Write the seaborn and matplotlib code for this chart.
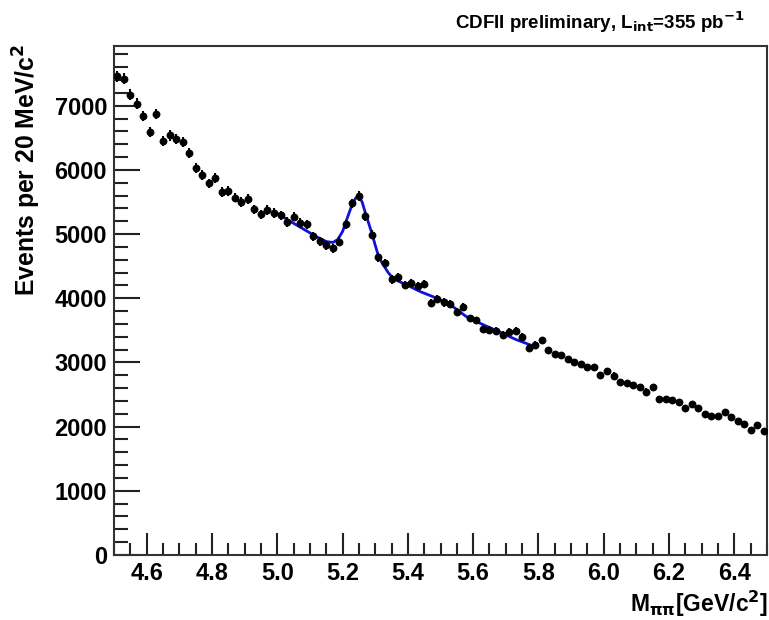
import matplotlib
matplotlib.use("Agg")
import matplotlib.pyplot as plt
from matplotlib.ticker import MultipleLocator
import numpy as np
import pandas as pd
import seaborn as sns

# ---- data ----
mass = [4.51, 4.53, 4.55, 4.57, 4.59, 4.61, 4.63, 4.65, 4.67, 4.69,
        4.71, 4.73, 4.75, 4.77, 4.79, 4.81, 4.83, 4.85, 4.87, 4.89,
        4.91, 4.93, 4.95, 4.97, 4.99, 5.01, 5.03, 5.05, 5.07, 5.09,
        5.11, 5.13, 5.15, 5.17, 5.19, 5.21, 5.23, 5.25, 5.27, 5.29,
        5.31, 5.33, 5.35, 5.37, 5.39, 5.41, 5.43, 5.45, 5.47, 5.49,
        5.51, 5.53, 5.55, 5.57, 5.59, 5.61, 5.63, 5.65, 5.67, 5.69,
        5.71, 5.73, 5.75, 5.77, 5.79, 5.81, 5.83, 5.85, 5.87, 5.89,
        5.91, 5.93, 5.95, 5.97, 5.99, 6.01, 6.03, 6.05, 6.07, 6.09,
        6.11, 6.13, 6.15, 6.17, 6.19, 6.21, 6.23, 6.25, 6.27, 6.29,
        6.31, 6.33, 6.35, 6.37, 6.39, 6.41, 6.43, 6.45, 6.47, 6.49]
events = [7460, 7425, 7170, 7035, 6840, 6590, 6870, 6455, 6540, 6480,
          6435, 6260, 6025, 5920, 5790, 5870, 5660, 5670, 5570, 5505,
          5550, 5385, 5310, 5375, 5330, 5295, 5190, 5270, 5175, 5155,
          4970, 4890, 4830, 4780, 4880, 5155, 5480, 5590, 5280, 4990,
          4640, 4545, 4295, 4325, 4205, 4235, 4195, 4225, 3930, 3985,
          3935, 3915, 3780, 3858, 3687, 3655, 3516, 3510, 3494, 3425,
          3480, 3494, 3405, 3232, 3280, 3345, 3190, 3128, 3115, 3048,
          3006, 2975, 2925, 2923, 2804, 2866, 2794, 2690, 2674, 2643,
          2617, 2547, 2620, 2425, 2425, 2414, 2383, 2290, 2352, 2285,
          2196, 2165, 2165, 2227, 2145, 2092, 2040, 1947, 2020, 1927]

fit_mass = [5.00, 5.04, 5.08, 5.12, 5.15, 5.17, 5.185, 5.20, 5.215, 5.23,
            5.24, 5.25, 5.26, 5.27, 5.28, 5.29, 5.30, 5.31, 5.32, 5.33,
            5.34, 5.35, 5.37, 5.40, 5.44, 5.48, 5.53, 5.58, 5.63, 5.68,
            5.73, 5.79]
fit_events = [5320, 5200, 5080, 4960, 4885, 4870, 4915, 5040, 5260, 5470,
              5560, 5590, 5500, 5330, 5170, 5010, 4830, 4660, 4560, 4480,
              4400, 4340, 4270, 4200, 4100, 4020, 3900, 3712, 3590, 3478,
              3360, 3245]

x_ticks = [4.6, 4.8, 5.0, 5.2, 5.4, 5.6, 5.8, 6.0, 6.2, 6.4]
y_ticks = [0, 1000, 2000, 3000, 4000, 5000, 6000, 7000]

df = pd.DataFrame({"mass": mass, "events": events})
df["err"] = np.sqrt(df["events"])
fit_df = pd.DataFrame({"mass": fit_mass, "events": fit_events})

# ---- figure ----
sns.set_theme(style="white")
plt.rcParams["font.family"] = ["Liberation Sans", "DejaVu Sans"]
plt.rcParams["font.weight"] = "bold"
plt.rcParams["mathtext.default"] = "bf"
plt.rcParams["text.color"] = "black"
plt.rcParams["xtick.color"] = "black"
plt.rcParams["ytick.color"] = "black"

fig = plt.figure(figsize=(7.69, 6.20), dpi=100)
ax = fig.add_axes([114 / 769, 65 / 620, 653 / 769, 509.5 / 620])

sns.lineplot(data=fit_df, x="mass", y="events", ax=ax, color="#1010e0",
             linewidth=2.0, sort=True, zorder=2)
ax.errorbar(df["mass"], df["events"], yerr=df["err"], fmt="none",
            ecolor="black", elinewidth=1.5, capsize=0, zorder=3)
sns.scatterplot(data=df, x="mass", y="events", ax=ax, color="black",
                s=32, edgecolor="black", linewidth=0, zorder=4)

ax.set_xlim(4.5, 6.5)
ax.set_ylim(0, 7940)
ax.set_xticks(x_ticks)
ax.set_xticklabels([f"{v:.1f}" for v in x_ticks])
ax.set_yticks(y_ticks)
ax.set_yticklabels([str(v) for v in y_ticks])
ax.xaxis.set_minor_locator(MultipleLocator(0.05))
ax.yaxis.set_minor_locator(MultipleLocator(200))

ax.tick_params(axis="both", which="both", direction="in", color="#222222",
               labelcolor="black", width=1.5, top=False, right=False,
               left=True, bottom=True)
ax.tick_params(axis="y", which="major", length=19, labelsize=17, pad=5)
ax.tick_params(axis="y", which="minor", length=10)
ax.tick_params(axis="x", which="major", length=16, labelsize=17, pad=5)
ax.tick_params(axis="x", which="minor", length=9)
for lab in ax.get_xticklabels() + ax.get_yticklabels():
    lab.set_fontweight("bold")
for sp in ax.spines.values():
    sp.set_visible(True)
    sp.set_color("#333333")
    sp.set_linewidth(1.5)

ax.set_xlabel("")
ax.set_ylabel("")
fig.text(27 / 769, 1 - 44 / 620, "Events per 20 MeV/c$^{2}$",
         rotation=90, ha="center", va="top", fontsize=17.8, fontweight="bold",
         color="black")
fig.text(768 / 769, 1 - 604 / 620, "M$_{\\pi\\pi}$[GeV/c$^{2}$]",
         ha="right", va="center", fontsize=16.5, fontweight="bold",
         color="black")
fig.text(745 / 769, 1 - 22 / 620,
         "CDFII preliminary, L$_{int}$=355 pb$^{-1}$",
         ha="right", va="center", fontsize=13.5, fontweight="bold",
         color="black")

fig.savefig("out.png", dpi=100)
